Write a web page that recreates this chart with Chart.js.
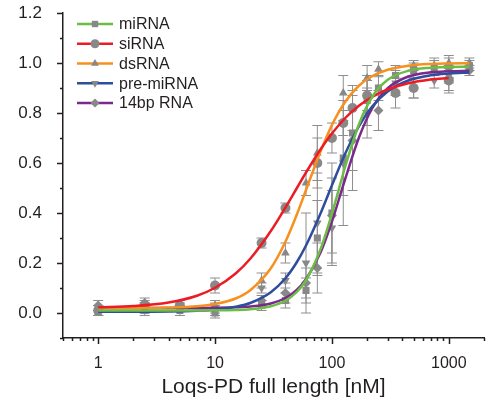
<!DOCTYPE html>
<html>
<head>
<meta charset="utf-8">
<script src="https://cdn.jsdelivr.net/npm/chart.js@4.4.1/dist/chart.umd.min.js"></script>
<style>
  html, body { margin: 0; padding: 0; background: #fff; }
</style>
</head>
<body>
<canvas id="bindingChart" width="501" height="401"></canvas>
<script>
// series names / looks
const seriesNames = ["miRNA", "siRNA", "dsRNA", "pre-miRNA", "14bp RNA"];
const seriesColors = ["#6cbd45", "#ed1c24", "#f7901e", "#2f4d9e", "#7b2a8b"];
const markerStyles = ["rect", "circle", "triangle", "triangle", "rectRot"];
const markerRotation = [0, 0, 0, 180, 0];

// fitted curves
const fitConc = [1, 2, 4, 7, 10, 15, 20, 30, 40, 50, 60, 80, 100, 130, 170, 220, 300, 450, 700, 1000, 1500];
const fitMiRNA = [0.010, 0.010, 0.010, 0.010, 0.011, 0.012, 0.015, 0.027, 0.049, 0.084, 0.131, 0.256, 0.397, 0.586, 0.754, 0.863, 0.933, 0.969, 0.981, 0.984, 0.985];
const fitSiRNA = [0.023, 0.028, 0.042, 0.069, 0.101, 0.158, 0.217, 0.328, 0.422, 0.499, 0.562, 0.655, 0.718, 0.780, 0.829, 0.864, 0.894, 0.919, 0.934, 0.940, null];
const fitDsRNA = [0.020, 0.020, 0.022, 0.027, 0.036, 0.058, 0.091, 0.179, 0.285, 0.393, 0.492, 0.647, 0.752, 0.845, 0.909, 0.947, 0.973, 0.989, 0.996, 0.998, 0.999];
const fitPreMiRNA = [0.005, 0.005, 0.006, 0.009, 0.013, 0.025, 0.040, 0.083, 0.139, 0.203, 0.270, 0.399, 0.511, 0.638, 0.746, 0.825, 0.886, 0.930, 0.951, 0.958, 0.962];
const fit14bp = [0.020, 0.020, 0.020, 0.020, 0.021, 0.023, 0.026, 0.038, 0.060, 0.092, 0.135, 0.243, 0.366, 0.537, 0.701, 0.817, 0.899, 0.946, 0.963, 0.967, 0.969];

// measured points (mean, error)
const concMiRNA = [1, 2.5, 5, 10, 25, 40, 60, 75, 100, 125, 150, 200, 250, 350, 500, 750, 1000, 1500];
const valMiRNA = [0.01, 0.01, 0.01, 0.00, 0.03, 0.05, 0.09, 0.30, 0.40, 0.62, 0.72, 0.85, 0.90, 0.95, 0.97, 0.98, 0.98, 0.99];
const errMiRNA = [0.02, 0.02, 0.02, 0.02, 0.02, 0.03, 0.05, 0.15, 0.20, 0.15, 0.15, 0.10, 0.05, 0.04, 0.03, 0.03, 0.04, 0.02];

const concSiRNA = [1, 2.5, 5, 10, 25, 40, 75, 100, 125, 150, 200, 350, 500, 1000];
const valSiRNA = [0.01, 0.03, 0.03, 0.11, 0.28, 0.42, 0.60, 0.70, 0.76, 0.82, 0.87, 0.88, 0.90, 0.93];
const errSiRNA = [0.02, 0.02, 0.01, 0.03, 0.02, 0.02, 0.10, 0.06, 0.05, 0.09, 0.06, 0.06, 0.04, 0.05];

const concDsRNA = [1, 2.5, 5, 10, 25, 40, 60, 75, 125, 200, 250, 500, 750, 1000, 1500];
const valDsRNA = [0.00, 0.02, 0.02, 0.03, 0.13, 0.24, 0.52, 0.64, 0.88, 0.94, 0.975, 0.99, 0.99, 1.00, 1.00];
const errDsRNA = [0.01, 0.02, 0.01, 0.02, 0.03, 0.04, 0.05, 0.11, 0.07, 0.05, 0.03, 0.02, 0.03, 0.03, 0.02];

const concPreMiRNA = [1, 2.5, 5, 10, 25, 40, 60, 75, 100, 125, 200, 350, 750, 1000];
const valPreMiRNA = [0.01, 0.02, 0.02, 0.01, 0.10, 0.13, 0.20, 0.36, 0.34, 0.60, 0.80, 0.92, 0.93, 0.95];
const errPreMiRNA = [0.02, 0.02, 0.01, 0.02, 0.02, 0.03, 0.20, 0.20, 0.15, 0.25, 0.10, 0.05, 0.03, 0.03];

const conc14bp = [1, 2.5, 5, 10, 25, 40, 60, 75, 100, 150, 250, 500, 1000, 1500];
const val14bp = [0.03, 0.04, 0.03, 0.02, 0.05, 0.08, 0.12, 0.18, 0.39, 0.69, 0.81, 0.90, 0.94, 0.97];
const err14bp = [0.02, 0.02, 0.02, 0.02, 0.02, 0.04, 0.06, 0.10, 0.15, 0.20, 0.08, 0.04, 0.05, 0.02];

// axes
const xMajorTicks = [1, 10, 100, 1000];
const yTickLabels = [0.0, 0.2, 0.4, 0.6, 0.8, 1.0, 1.2];

const fits = [fitMiRNA, fitSiRNA, fitDsRNA, fitPreMiRNA, fit14bp];
const concs = [concMiRNA, concSiRNA, concDsRNA, concPreMiRNA, conc14bp];
const vals = [valMiRNA, valSiRNA, valDsRNA, valPreMiRNA, val14bp];
const errs = [errMiRNA, errSiRNA, errDsRNA, errPreMiRNA, err14bp];

const axisColor = "#231f20";
const markerGray = "#888888";

Chart.defaults.font.family = "'Liberation Sans', Arial, sans-serif";
Chart.defaults.color = axisColor;

// minor tick positions for the log axis
const xAllTicks = [];
[0.1, 1, 10, 100, 1000].forEach((dec) => {
    for (let m = 1; m <= 9; m++) {
        const v = +(dec * m).toPrecision(3);
        if (v >= 0.5 && v <= 2000) xAllTicks.push(v);
    }
});

const datasets = [];
seriesNames.forEach((name, i) => {
    datasets.push({
        label: name + " points",
        data: concs[i].map((c, k) => ({ x: c, y: vals[i][k] })),
        errors: errs[i],
        showLine: false,
        pointStyle: markerStyles[i],
        rotation: markerRotation[i],
        pointRadius: 5,
        pointBackgroundColor: markerGray,
        pointBorderWidth: 0,
        order: 2,
    });
});
seriesNames.forEach((name, i) => {
    datasets.push({
        label: name,
        data: fitConc.map((c, k) => ({ x: c, y: fits[i][k] })),
        showLine: true,
        borderColor: seriesColors[i],
        borderWidth: 2.5,
        pointRadius: 0,
        fill: false,
        cubicInterpolationMode: "monotone",
        order: 1,
    });
});

const errorBarPlugin = {
    id: "errorBars",
    beforeDatasetsDraw(chart) {
        const { ctx, scales: { x, y } } = chart;
        ctx.save();
        ctx.strokeStyle = "#8e8e8e";
        ctx.lineWidth = 1;
        chart.data.datasets.forEach((ds) => {
            if (!ds.errors) return;
            ds.data.forEach((p, i) => {
                const e = ds.errors[i];
                const px = x.getPixelForValue(p.x);
                const top = y.getPixelForValue(p.y + e);
                const bot = y.getPixelForValue(p.y - e);
                ctx.beginPath();
                ctx.moveTo(px, top); ctx.lineTo(px, bot);
                ctx.moveTo(px - 5, top); ctx.lineTo(px + 5, top);
                ctx.moveTo(px - 5, bot); ctx.lineTo(px + 5, bot);
                ctx.stroke();
            });
        });
        ctx.restore();
    },
};

const tickMarkPlugin = {
    id: "tickMarks",
    afterDraw(chart) {
        const { ctx, chartArea, scales: { x, y } } = chart;
        ctx.save();
        ctx.strokeStyle = axisColor;
        ctx.lineWidth = 1.5;
        ctx.beginPath();
        y.ticks.forEach((t) => {
            const py = Math.round(y.getPixelForValue(t.value)) + 0.5;
            const len = t.label ? 6 : 3;
            ctx.moveTo(chartArea.left - len, py);
            ctx.lineTo(chartArea.left, py);
        });
        x.ticks.forEach((t) => {
            const px = Math.round(x.getPixelForValue(t.value)) + 0.5;
            const len = t.label ? 6 : 3;
            ctx.moveTo(px, chartArea.bottom);
            ctx.lineTo(px, chartArea.bottom + len);
        });
        ctx.stroke();
        ctx.restore();
    },
};

const legendPlugin = {
    id: "insideLegend",
    afterDraw(chart) {
        const { ctx, chartArea } = chart;
        const x0 = chartArea.left + 14;
        const x1 = x0 + 36;
        ctx.save();
        ctx.font = "16px 'Liberation Sans', Arial, sans-serif";
        ctx.textBaseline = "middle";
        seriesNames.forEach((name, i) => {
            const yy = chartArea.top + 11 + i * 19.75;
            ctx.strokeStyle = seriesColors[i];
            ctx.lineWidth = 2.5;
            ctx.beginPath();
            ctx.moveTo(x0, yy);
            ctx.lineTo(x1, yy);
            ctx.stroke();
            ctx.fillStyle = markerGray;
            Chart.helpers.drawPoint(ctx, {
                pointStyle: markerStyles[i],
                rotation: markerRotation[i],
                radius: 4.5,
                borderWidth: 0,
            }, (x0 + x1) / 2, yy);
            ctx.fillStyle = axisColor;
            ctx.fillText(name, x1 + 6, yy + 1);
        });
        ctx.restore();
    },
};

new Chart(document.getElementById("bindingChart"), {
    type: "scatter",
    data: { datasets: datasets },
    plugins: [errorBarPlugin, tickMarkPlugin, legendPlugin],
    options: {
        responsive: false,
        animation: false,
        layout: { padding: { left: 0, top: 13, right: 17, bottom: 0 } },
        plugins: {
            legend: { display: false },
            tooltip: { enabled: false },
        },
        scales: {
            x: {
                type: "logarithmic",
                min: 0.5,
                max: 2000,
                afterBuildTicks: (scale) => {
                    scale.ticks = xAllTicks.map((v) => ({ value: v }));
                },
                afterFit: (scale) => {
                    scale.height = 63;
                    scale.paddingLeft = 0;
                    scale.paddingRight = 0;
                },
                grid: { display: true, drawOnChartArea: false, drawTicks: false },
                border: { display: true, color: axisColor, width: 1.5 },
                ticks: {
                    autoSkip: false,
                    maxRotation: 0,
                    padding: 16,
                    font: { size: 16 },
                    color: axisColor,
                    callback: (v) => (xMajorTicks.includes(v) ? String(v) : ""),
                },
                title: {
                    display: true,
                    text: "Loqs-PD full length [nM]",
                    font: { size: 21 },
                    color: axisColor,
                    padding: { top: 0, bottom: 1 },
                },
            },
            y: {
                min: -0.1,
                max: 1.2,
                afterBuildTicks: (scale) => {
                    const t = [];
                    for (let k = -1; k <= 12; k++) t.push({ value: k / 10 });
                    scale.ticks = t;
                },
                afterFit: (scale) => {
                    scale.width = 63;
                    scale.paddingTop = 0;
                    scale.paddingBottom = 0;
                },
                grid: { display: true, drawOnChartArea: false, drawTicks: false },
                border: { display: true, color: axisColor, width: 1.5 },
                ticks: {
                    autoSkip: false,
                    padding: 21,
                    font: { size: 17 },
                    color: axisColor,
                    callback: (v) => {
                        const hit = yTickLabels.find((t) => Math.abs(t - v) < 1e-6);
                        return hit === undefined ? "" : hit.toFixed(1);
                    },
                },
            },
        },
    },
});
</script>
</body>
</html>
